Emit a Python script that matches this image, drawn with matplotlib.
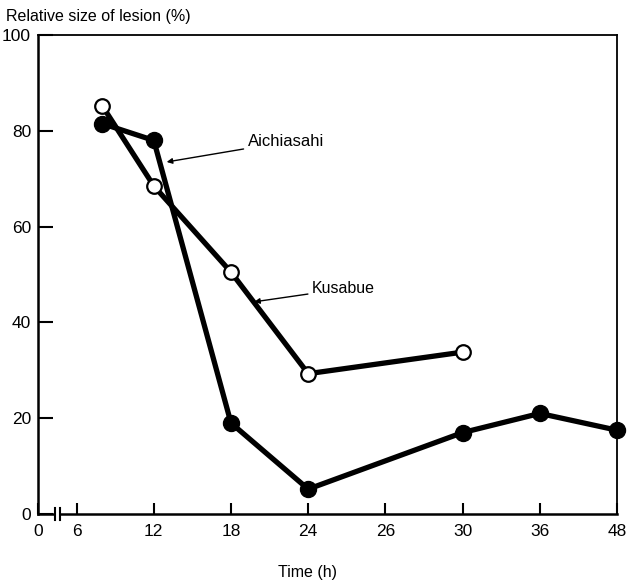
import matplotlib
matplotlib.use("Agg")
import matplotlib.pyplot as plt
import numpy as np

plt.rcParams['font.family'] = ['Liberation Sans', 'DejaVu Sans']

# time axis is not linear: each labelled hour gets one equal slot
tick_hours = [0, 6, 12, 18, 24, 26, 30, 36, 48]
slot_pos = [-0.5, 0, 1, 2, 3, 4, 5, 6, 7]

aichi_t = [8, 12, 18, 24, 30, 36, 48]
aichi_v = [81.5, 78, 19, 5.2, 17, 21, 17.5]

kusa_t = [8, 12, 18, 24, 30]
kusa_v = [85.2, 68.5, 50.5, 29.3, 33.8]


def fwd(h):
    return np.interp(h, tick_hours, slot_pos)


def inv(p):
    return np.interp(p, slot_pos, tick_hours)


fig = plt.figure(figsize=(6.28, 5.82), dpi=100)
ax = fig.add_axes([0.0605, 0.1168, 0.922, 0.823])
ax.set_xscale('function', functions=(fwd, inv))

ax.plot(aichi_t, aichi_v, '-', color='black', lw=3.8, marker='o',
        ms=11.5, mfc='black', mec='black', zorder=3, clip_on=False)
ax.plot(kusa_t, kusa_v, '-', color='black', lw=3.8, marker='o',
        ms=10.5, mfc='white', mec='black', mew=1.6, zorder=4, clip_on=False)

ax.set_xlim(0, 48)
ax.set_ylim(0, 100)
ax.set_xticks(tick_hours)
ax.set_xticklabels([str(t) for t in tick_hours])
ax.set_yticks([0, 20, 40, 60, 80, 100])
ax.tick_params(axis='x', direction='in', length=8, width=1.5, labelsize=12.5, pad=7)
ax.tick_params(axis='y', direction='in', length=11, width=1.5, labelsize=12.5, pad=5)
ax.minorticks_off()

for side in ['left', 'bottom']:
    ax.spines[side].set_linewidth(1.8)
for side in ['top', 'right']:
    ax.spines[side].set_linewidth(1.3)

# break marks on the time axis between 0 and 6
ax.plot([2.6, 3.4], [0, 0], color='white', lw=3, solid_capstyle='butt',
        clip_on=False, zorder=5)
for hb in [2.6, 3.4]:
    ax.plot([hb, hb], [-1.2, 1.2], color='black', lw=1.5, clip_on=False, zorder=6)

ax.annotate('Aichiasahi', xy=(13.0, 73.5), xytext=(19.3, 77.7),
            fontsize=12, va='center', ha='left',
            arrowprops=dict(arrowstyle='-|>', color='black', lw=1.0,
                            mutation_scale=8, shrinkA=1, shrinkB=0))
ax.annotate('Kusabue', xy=(19.8, 44.3), xytext=(24.1, 47.0),
            fontsize=11.5, va='center', ha='left',
            arrowprops=dict(arrowstyle='-|>', color='black', lw=1.0,
                            mutation_scale=8, shrinkA=1, shrinkB=0))

fig.text(0.01, 0.972, 'Relative size of lesion (%)', fontsize=11.5, va='center', ha='left')
fig.text(0.49, 0.016, 'Time (h)', fontsize=11.5, va='center', ha='center')

fig.savefig('out.png', dpi=100)
